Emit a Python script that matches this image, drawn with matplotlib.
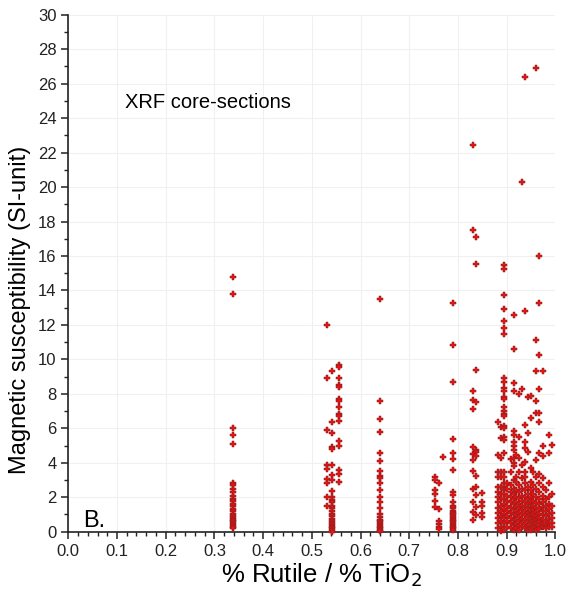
import matplotlib
matplotlib.use('Agg')
import matplotlib.pyplot as plt
from matplotlib.ticker import MultipleLocator

plt.rcParams['font.family'] = ['Liberation Sans', 'DejaVu Sans']

# rutile fraction of each core-section column -> magnetic susceptibility readings
col_0338 = [14.8, 13.8, 6.0, 5.6, 5.1, 2.8, 2.7, 2.5, 2.3, 2.1, 1.9, 1.8, 1.6, 1.5, 1.3,
            1.2, 1.0, 0.9, 0.8, 0.7, 0.6, 0.5, 0.4, 0.3, 0.2]
col_0532 = [12.0, 8.9, 5.9, 3.9, 3.65, 3.05, 2.8, 2.0, 1.5]
col_0541 = [9.35, 6.35, 5.75, 4.9, 4.8, 3.85, 3.3, 3.0, 2.35, 2.0, 1.85, 1.7, 1.5, 1.35,
            1.2, 1.0, 0.9, 0.75, 0.6, 0.5, 0.4, 0.3, 0.2, 0.1, 0.0]
col_0556 = [9.7, 9.55, 8.9, 8.5, 8.4, 7.7, 7.6, 7.25, 6.85, 6.7, 6.45, 5.25, 5.0, 3.6, 3.35, 2.9]
col_0639 = [13.5, 7.6, 6.55, 5.8, 4.55, 4.1, 3.55, 3.25, 3.1, 2.8, 2.4, 2.0, 1.75, 1.35,
            1.0, 0.85, 0.7, 0.6, 0.5, 0.4, 0.3, 0.2, 0.1, 0.05]
col_0753 = [3.2, 3.0, 2.45, 2.2, 1.8, 1.45]
col_0762 = [2.8, 1.3, 0.65, 0.45, 0.3, 0.15]
col_0769 = [4.35]
col_0790 = [13.3, 10.85, 8.7, 5.4, 4.55, 4.2, 3.6, 2.3, 2.15, 1.7, 1.5, 1.35, 1.2, 1.1,
            1.0, 0.9, 0.8, 0.7, 0.6, 0.5, 0.4, 0.3, 0.2, 0.1]
col_0831 = [22.45, 17.5, 8.15, 7.65, 7.1, 4.9, 4.5, 4.15, 3.55, 2.5, 1.7, 1.15, 0.7]
col_0838 = [17.1, 15.55, 9.4, 7.55, 4.75, 4.6, 4.4, 3.25, 2.6, 2.15, 1.45, 0.95]
col_0849 = [2.25, 1.7, 1.5, 1.1, 0.85]
col_0882 = [6.35, 4.45, 3.45, 3.2, 2.6, 2.3, 2.0, 1.7, 1.4, 1.1, 0.8, 0.5, 0.2]
col_0888 = [6.1, 5.45, 4.25, 3.45, 3.2, 2.6, 2.2, 1.9, 1.5, 1.2, 0.9, 0.6, 0.3, 0.05]
col_0895 = [15.5, 15.25, 13.75, 12.95, 12.25, 11.8, 11.5, 8.9, 8.7, 8.35, 8.15, 7.8, 7.7,
            7.25, 7.0, 6.85, 6.7, 6.15, 6.0, 5.5, 5.3, 4.55, 3.45, 3.2, 2.8, 2.6, 2.4,
            2.2, 1.9, 1.6, 1.3, 1.0, 0.8, 0.5, 0.3, 0.1]
col_0901 = [2.8, 2.5, 2.1, 1.8, 1.5, 1.2, 0.9, 0.6, 0.3]
col_0908 = [4.2, 3.45, 2.7, 2.3, 2.0, 1.7, 1.4, 1.1, 0.8, 0.5, 0.2]
col_0914 = [12.6, 10.6, 8.65, 8.15, 5.85, 5.6, 5.2, 4.95, 4.75, 4.25, 4.0, 3.8, 3.0, 2.5,
            2.2, 1.9, 1.6, 1.3, 1.0, 0.7, 0.4, 0.1]
col_0920 = [4.45, 3.2, 2.9, 2.4, 2.0, 1.7, 1.45, 1.2, 0.95, 0.7, 0.45, 0.2]
col_0926 = [8.0, 5.5, 4.3, 3.45, 2.7, 2.3, 1.95, 1.6, 1.35, 1.1, 0.85, 0.6, 0.35, 0.1]
col_0931 = [20.3, 8.3, 3.9, 3.1, 2.5, 2.1, 1.8, 1.5, 1.25, 1.0, 0.75, 0.5, 0.25]
col_0937 = [26.4, 12.8, 6.2, 5.2, 4.85, 4.05, 3.45, 3.2, 2.8, 2.4, 2.0, 1.7, 1.45, 1.2,
            0.95, 0.7, 0.45, 0.2]
col_0943 = [7.8, 5.7, 4.65, 2.6, 2.2, 1.9, 1.6, 1.35, 1.1, 0.85, 0.6, 0.35, 0.1]
col_0949 = [7.85, 6.6, 3.7, 2.9, 2.4, 2.0, 1.7, 1.45, 1.2, 0.95, 0.7, 0.5, 0.3, 0.1]
col_0955 = [3.45, 2.7, 2.2, 1.8, 1.5, 1.25, 1.0, 0.8, 0.6, 0.4, 0.2]
col_0960 = [26.9, 11.15, 9.35, 7.6, 6.9, 4.15, 3.2, 2.5, 2.0, 1.65, 1.4, 1.15, 0.9, 0.7,
            0.5, 0.3, 0.1]
col_0967 = [16.0, 13.3, 10.25, 8.3, 6.9, 6.35, 4.55, 3.35, 2.8, 2.3, 1.9, 1.6, 1.3, 1.05,
            0.8, 0.55, 0.35, 0.15]
col_0974 = [9.3, 4.95, 4.4, 3.1, 2.6, 2.1, 1.75, 1.45, 1.2, 0.95, 0.7, 0.45, 0.25]
col_0980 = [2.4, 1.9, 1.5, 1.2, 0.9, 0.65, 0.4, 0.2]
col_0986 = [5.6, 4.55, 2.8, 2.0, 1.6, 1.3, 1.0, 0.75, 0.5, 0.3]
col_0992 = [5.05, 2.2, 1.5, 1.1, 0.8, 0.5, 0.3]

columns = [
    (0.338, col_0338), (0.532, col_0532), (0.541, col_0541), (0.556, col_0556),
    (0.639, col_0639), (0.753, col_0753), (0.762, col_0762), (0.769, col_0769),
    (0.790, col_0790), (0.831, col_0831), (0.838, col_0838), (0.849, col_0849),
    (0.882, col_0882), (0.888, col_0888), (0.895, col_0895), (0.901, col_0901),
    (0.908, col_0908), (0.914, col_0914), (0.920, col_0920), (0.926, col_0926),
    (0.931, col_0931), (0.937, col_0937), (0.943, col_0943), (0.949, col_0949),
    (0.955, col_0955), (0.960, col_0960), (0.967, col_0967), (0.974, col_0974),
    (0.980, col_0980), (0.986, col_0986), (0.992, col_0992),
]

x = []
y = []
for rut, vals in columns:
    for v in vals:
        x.append(rut)
        y.append(v)

fig = plt.figure(figsize=(5.7, 5.91), dpi=100)
ax = fig.add_axes([0.1198, 0.1003, 0.8546, 0.8748])

ax.plot(x, y, linestyle='none', marker='P', markersize=4.0,
        markerfacecolor='#ee1111', markeredgecolor='#7a2222', markeredgewidth=0.35,
        clip_on=False, zorder=3)

ax.set_xlim(0, 1)
ax.set_ylim(0, 30)
ax.xaxis.set_major_locator(MultipleLocator(0.1))
ax.xaxis.set_minor_locator(MultipleLocator(0.02))
ax.yaxis.set_major_locator(MultipleLocator(2))
ax.yaxis.set_minor_locator(MultipleLocator(1))
ax.xaxis.set_major_formatter(plt.FuncFormatter(lambda v, p: '%.1f' % v))

ax.grid(True, which='major', color='#f0f0f0', linewidth=0.8, zorder=0)
ax.set_axisbelow(True)
for side in ['top', 'right']:
    ax.spines[side].set_visible(False)
for side in ['left', 'bottom']:
    ax.spines[side].set_linewidth(1.2)
    ax.spines[side].set_color('#222222')

ax.tick_params(which='major', direction='out', length=5, width=1.1, labelsize=12,
               colors='#222222')
ax.tick_params(which='minor', direction='out', length=3, width=1.0, colors='#222222')

ax.set_xlabel('% Rutile / % TiO$_2$', fontsize=18.5)
ax.xaxis.set_label_coords(0.52, -0.058, transform=ax.transAxes)
ax.xaxis.label.set_va('top')
ax.set_ylabel('Magnetic susceptibility (SI-unit)', fontsize=17)
ax.yaxis.set_label_coords(-0.077, 0.43, transform=ax.transAxes)

ax.text(0.117, 24.9, 'XRF core-sections', fontsize=14.5, va='center', ha='left')
ax.text(0.03, 0.3, 'B.', fontsize=17, va='baseline', ha='left')

plt.savefig('out.png', dpi=100)
